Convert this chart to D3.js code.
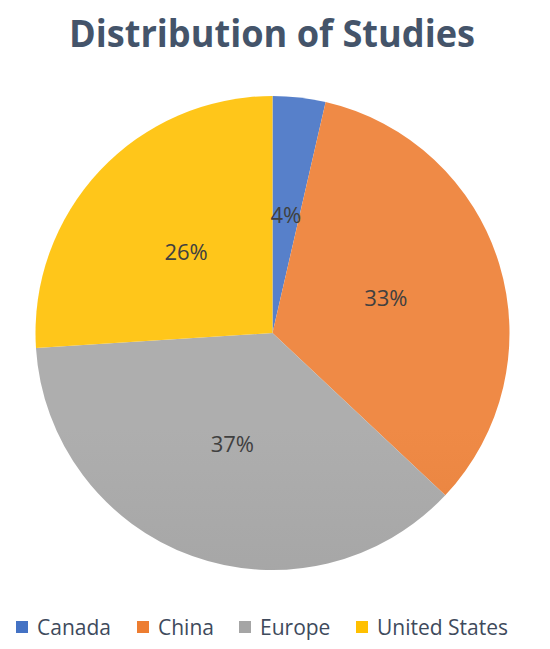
<!DOCTYPE html>
<html><head><meta charset="utf-8">
<script src="https://cdn.jsdelivr.net/npm/d3@7"></script>
<style>body{margin:0;background:#fff}svg{display:block}</style>
</head><body>
<svg id="c" width="550" height="649"></svg>
<script>
const categories = ["Canada", "China", "Europe", "United States"];
const values = [3.6, 33.4, 37, 26];
const labels = ["4%", "33%", "37%", "26%"];
const colors = ["#4472C4", "#ED7D31", "#A5A5A5", "#FFC000"];
const title = "Distribution of Studies";

const W = 550, H = 649, cx = 272.5, cy = 333, r = 237;
const svg = d3.select("#c");
const defs = svg.append("defs");
colors.forEach((c, i) => {
  const g = defs.append("linearGradient").attr("id", "g" + i)
    .attr("gradientUnits", "userSpaceOnUse")
    .attr("x1", 0).attr("y1", cy - r).attr("x2", 0).attr("y2", cy + r);
  g.append("stop").attr("offset", "0%").attr("stop-color", d3.interpolateRgb(c, "#fff")(0.1));
  g.append("stop").attr("offset", "100%").attr("stop-color", d3.interpolateRgb(c, "#000")(0.1));
});

svg.append("text").attr("x", 272).attr("y", 47).attr("text-anchor", "middle")
  .attr("font-family", "'Open Sans', sans-serif").attr("font-weight", 700)
  .attr("font-size", 38).attr("fill", "#44546A").attr("textLength", 406)
  .attr("lengthAdjust", "spacingAndGlyphs").text(title);

const pie = d3.pie().sort(null).value(d => d)(values);
const arc = d3.arc().innerRadius(0).outerRadius(r);
const gp = svg.append("g").attr("transform", `translate(${cx},${cy})`);
gp.selectAll("path").data(pie).join("path").attr("d", arc)
  .attr("fill", (d, i) => `url(#g${i})`);
gp.selectAll("text").data(pie).join("text")
  .attr("transform", d => `translate(${arc.centroid(d)})`)
  .attr("text-anchor", "middle").attr("dy", "0.35em")
  .attr("font-family", "'Open Sans', sans-serif").attr("font-size", 22)
  .attr("fill", "#404040").text((d, i) => labels[i]);

const legX = [16, 137, 239, 356];
const lg = svg.append("g");
categories.forEach((c, i) => {
  lg.append("rect").attr("x", legX[i]).attr("y", 621).attr("width", 12).attr("height", 12).attr("fill", colors[i]);
  lg.append("text").attr("x", legX[i] + 21).attr("y", 635)
    .attr("font-family", "'Open Sans', sans-serif").attr("font-size", 21)
    .attr("fill", "#3E4A5C").text(c);
});
</script>
</body></html>
